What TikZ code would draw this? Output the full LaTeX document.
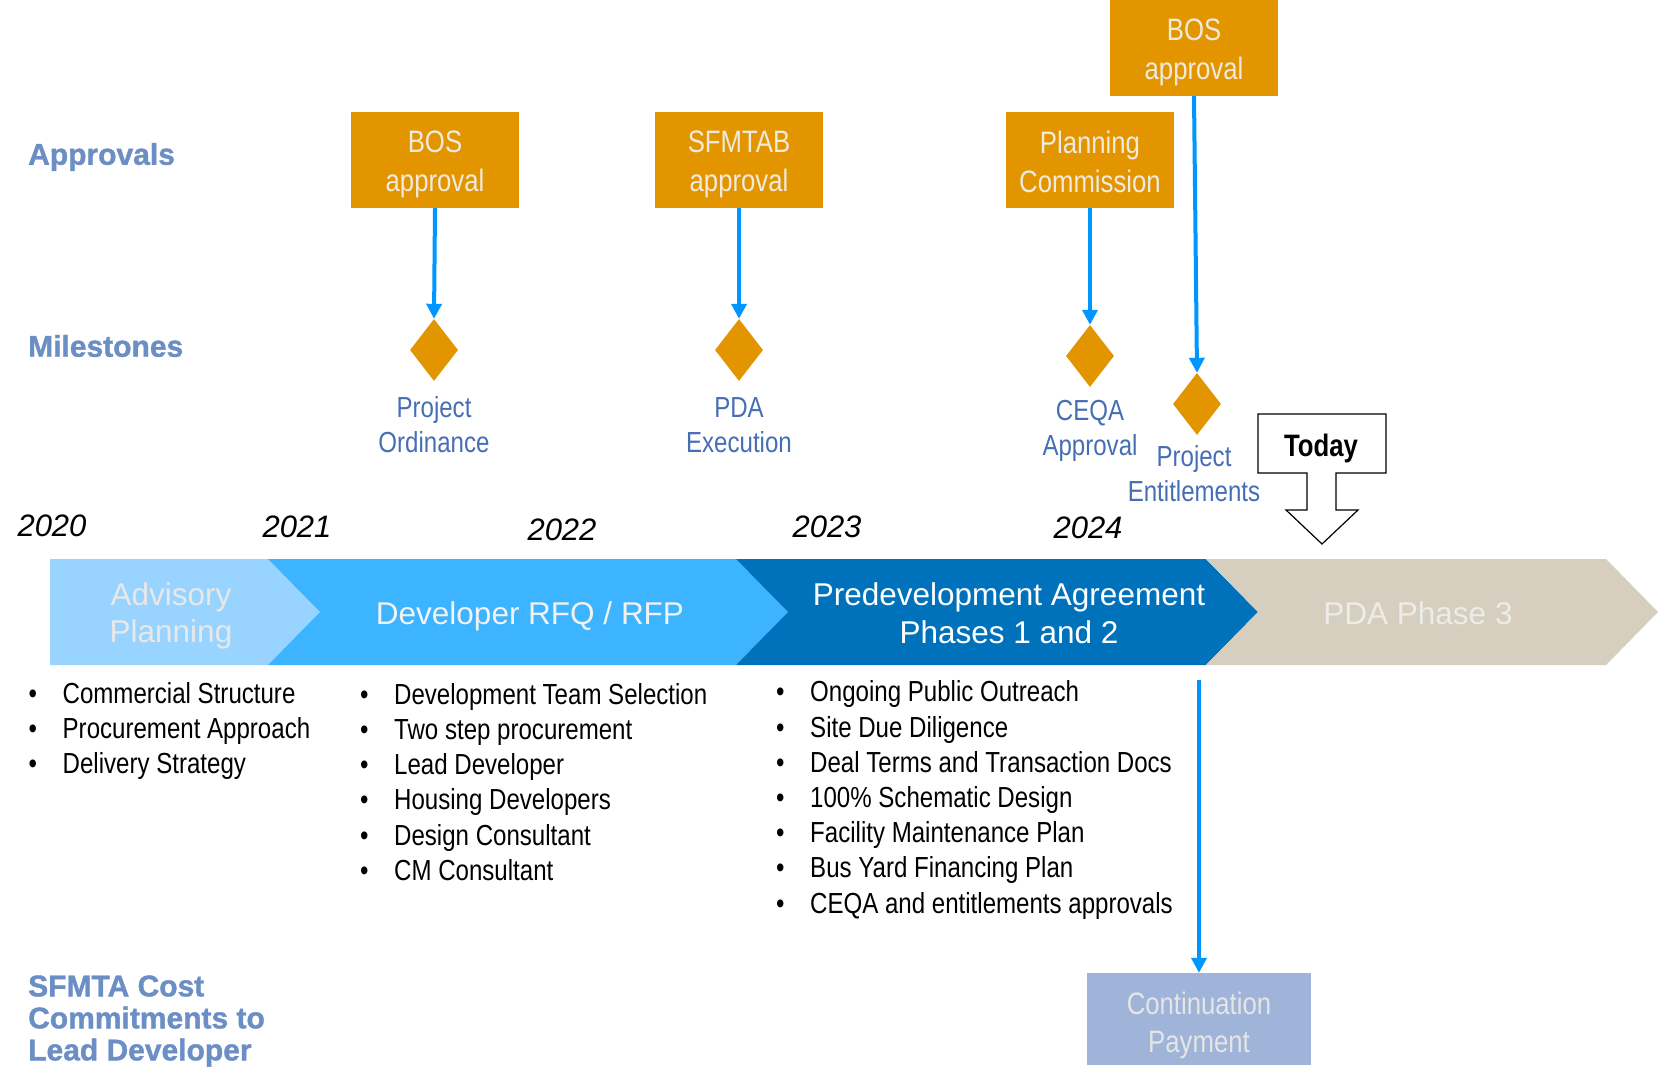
\documentclass[tikz,border=0pt]{standalone}
\usepackage{fontspec}
\setmainfont{Liberation Sans}
\newfontfamily\narrowfont{Liberation Sans}[FakeStretch=0.83]
\newfontfamily\heavyfont{Liberation Sans Bold}[FakeBold=1.2]
\usetikzlibrary{arrows.meta,shapes.geometric}

\definecolor{headblue}{RGB}{107,142,196}
\definecolor{approvalorange}{RGB}{227,149,0}
\definecolor{boxtext}{RGB}{240,234,222}
\definecolor{milestoneblue}{RGB}{70,110,180}
\definecolor{arrowblue}{RGB}{0,150,255}
\definecolor{advisoryblue}{RGB}{153,211,255}
\definecolor{rfqblue}{RGB}{61,180,255}
\definecolor{pdablue}{RGB}{0,114,188}
\definecolor{phasebeige}{RGB}{214,207,192}
\definecolor{paymentblue}{RGB}{159,180,216}

\newcommand{\listdot}{\makebox[34pt][l]{\textbullet}}

\tikzset{
	heading/.style={anchor=west, align=left, text=headblue, inner sep=0pt, font=\heavyfont\fontsize{30}{32}\selectfont},
	approvalbox/.style={fill=approvalorange, minimum width=168pt, minimum height=96pt, inner sep=0pt},
	boxlabel/.style={align=center, text=boxtext, inner sep=0pt, font=\narrowfont\fontsize{31}{39}\selectfont},
	milestone/.style={diamond, fill=approvalorange, minimum width=48pt, minimum height=62pt, inner sep=0pt},
	milestonelabel/.style={align=center, text=milestoneblue, inner sep=0pt, font=\narrowfont\fontsize{29}{35}\selectfont},
	yearlabel/.style={inner sep=0pt, font=\itshape\fontsize{31}{37}\selectfont},
	phaselabel/.style={align=center, inner sep=0pt, font=\fontsize{31.5}{37.5}\selectfont},
	bulletlist/.style={anchor=west, align=left, inner sep=0pt, font=\narrowfont\fontsize{29}{35.2}\selectfont},
	linkarrow/.style={-{Triangle[width=15pt,length=15pt]}, line width=4pt, draw=arrowblue},
}

\begin{document}
\begin{tikzpicture}[x=1pt,y=-1pt]
	\useasboundingbox (0,0) rectangle (1660,1068);

	% row headings
	\node[heading] (approvals) at (28,157) {Approvals};
	\node[heading] (milestones) at (28,346) {Milestones};
	\node[heading] (costs) at (28,1021) {SFMTA Cost\\Commitments to\\Lead Developer};

	% approvals
	\node[approvalbox] (bosA) at (435,160) {};
	\node[approvalbox] (sfmtab) at (739,160) {};
	\node[approvalbox] (planning) at (1090,160) {};
	\node[approvalbox] (bosB) at (1194,48) {};
	\node[boxlabel] (bosAtxt) at ([yshift=-4pt]bosA.center) {BOS\\approval};
	\node[boxlabel] (sfmtabtxt) at ([yshift=-4pt]sfmtab.center) {SFMTAB\\approval};
	\node[boxlabel] (planningtxt) at ([yshift=-2pt]planning.center) {Planning\\Commission};
	\node[boxlabel] (bosBtxt) at ([yshift=-4pt]bosB.center) {BOS\\approval};

	% milestones
	\node[milestone] (ordinance) at (434,350) {};
	\node[milestone] (execution) at (739,350) {};
	\node[milestone] (ceqa) at (1090,356) {};
	\node[milestone] (entitle) at (1197,404) {};
	\node[milestonelabel] (ordinancetxt) at (434,425) {Project\\Ordinance};
	\node[milestonelabel] (executiontxt) at (739,425) {PDA\\Execution};
	\node[milestonelabel] (ceqatxt) at (1090,431) {CEQA\\Approval};
	\node[milestonelabel] (entitletxt) at (1194,474) {Project\\Entitlements};

	\draw[linkarrow] (bosA.south) -- (ordinance.north);
	\draw[linkarrow] (sfmtab.south) -- (execution.north);
	\draw[linkarrow] (planning.south) -- (ceqa.north);
	\draw[linkarrow] (bosB.south) -- (entitle.north);

	% years
	\node[yearlabel] (y2020) at (52,526) {2020};
	\node[yearlabel] (y2021) at (297,527) {2021};
	\node[yearlabel] (y2022) at (562,530) {2022};
	\node[yearlabel] (y2023) at (827,527) {2023};
	\node[yearlabel] (y2024) at (1088,528) {2024};

	% today marker
	\draw[line width=1.2pt, fill=white] (1258,414) -- (1386,414) -- (1386,473) -- (1336,473) -- (1336,510) -- (1358,510) -- (1322,544) -- (1286,510) -- (1307,510) -- (1307,473) -- (1258,473) -- cycle;
	\node[inner sep=0pt, font=\narrowfont\bfseries\fontsize{31}{37}\selectfont] (today) at (1321,448) {Today};

	% phase band
	\fill[advisoryblue] (50,559) -- (268,559) -- (320,612) -- (268,665) -- (50,665) -- cycle;
	\fill[rfqblue] (268,559) -- (736,559) -- (788,612) -- (736,665) -- (268,665) -- (320,612) -- cycle;
	\fill[pdablue] (736,559) -- (1206,559) -- (1258,612) -- (1206,665) -- (736,665) -- (788,612) -- cycle;
	\fill[phasebeige] (1206,559) -- (1606,559) -- (1658,612) -- (1606,665) -- (1206,665) -- (1258,612) -- cycle;
	\node[phaselabel, text=black!9] (advisory) at (171,616) {Advisory\\Planning};
	\node[phaselabel, text=black!5] (rfq) at (530,616) {Developer RFQ / RFP};
	\node[phaselabel, text=white] (pda) at (1009,613) {Predevelopment Agreement\\Phases 1 and 2};
	\node[phaselabel, text=black!8!phasebeige!30!white] (phase3) at (1418,613) {PDA Phase 3};

	% activities
	\node[bulletlist] (listA) at (28.5,731) {\listdot Commercial Structure\\\listdot Procurement Approach\\\listdot Delivery Strategy};
	\node[bulletlist] (listB) at (360,782) {\listdot Development Team Selection\\\listdot Two step procurement\\\listdot Lead Developer\\\listdot Housing Developers\\\listdot Design Consultant\\\listdot CM Consultant};
	\node[bulletlist] (listC) at (776,800) {\listdot Ongoing Public Outreach\\\listdot Site Due Diligence\\\listdot Deal Terms and Transaction Docs\\\listdot 100\% Schematic Design\\\listdot Facility Maintenance Plan\\\listdot Bus Yard Financing Plan\\\listdot CEQA and entitlements approvals};

	% cost commitment
	\node[fill=paymentblue, minimum width=224pt, minimum height=92pt, inner sep=0pt] (payment) at (1199,1019) {};
	\node[boxlabel, text=black!10, font=\narrowfont\fontsize{31}{38}\selectfont] (paymenttxt) at ([yshift=-6pt]payment.center) {Continuation\\Payment};
	\coordinate (paystart) at (1199,680);
	\draw[linkarrow] (paystart) -- (payment.north);
\end{tikzpicture}
\end{document}
